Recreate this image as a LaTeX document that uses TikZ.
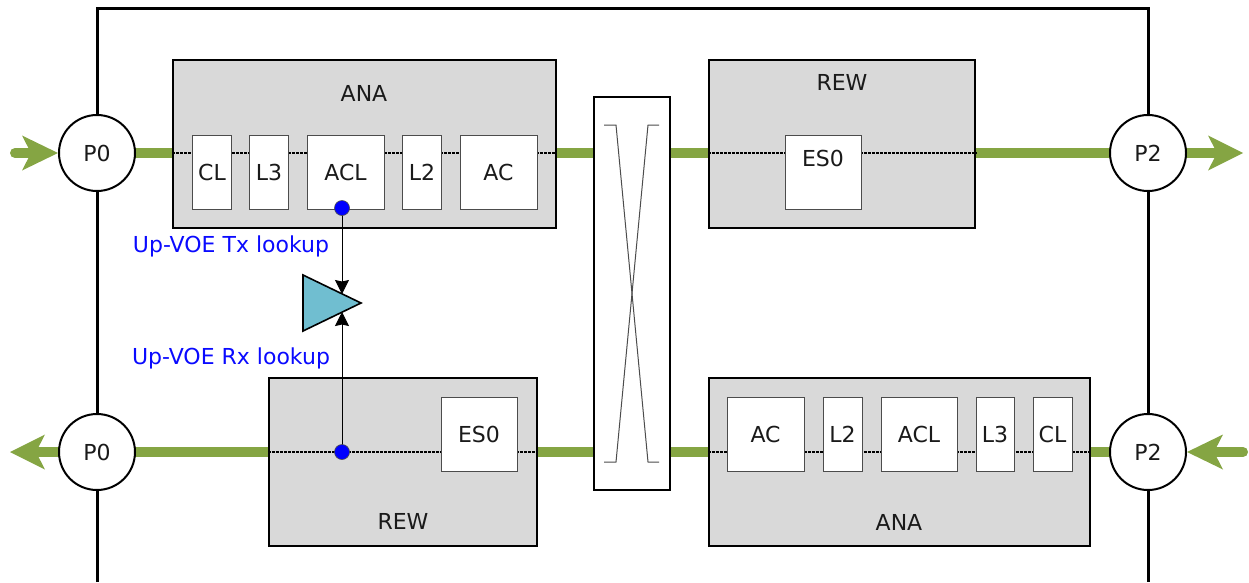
\documentclass[tikz,border=0pt]{standalone}
\usepackage{fontspec}
\setmainfont{DejaVu Sans}
\usetikzlibrary{arrows.meta,calc}
\pgfdeclarelayer{background}
\pgfsetlayers{background,main}
\definecolor{vgreen}{RGB}{133,165,67}
\definecolor{boxgray}{RGB}{217,217,217}
\definecolor{ampblue}{RGB}{112,190,208}
\definecolor{txt}{RGB}{26,26,26}
\definecolor{lblblue}{RGB}{10,10,255}
\begin{document}
\begin{tikzpicture}[x=1pt,y=-1pt,
  font=\fontsize{22}{26}\selectfont, text=txt,
  graybox/.style={draw=black, line width=2.5pt, fill=boxgray, inner sep=0pt, minimum height=168pt},
  inbox/.style={draw=black!70, line width=1pt, fill=white, inner sep=0pt, minimum height=74pt},
  port/.style={circle, draw=black, line width=2pt, fill=white, minimum size=76pt, inner sep=0pt},
  gline/.style={vgreen, line width=10pt},
  dotline/.style={black, line width=1.4pt, dash pattern=on 3pt off 1pt},
  bluedot/.style={circle, fill=blue, draw=black!70, line width=0.6pt, minimum size=15pt, inner sep=0pt},
  lbl/.style={text=lblblue, font=\fontsize{22}{26}\selectfont},
  sig/.style={black, line width=1pt, -{Stealth[length=14pt,width=14pt,inset=1.5pt]}},
  frameline/.style={black, line width=3pt},
  crossline/.style={black!70, line width=1pt}
]
\useasboundingbox (0,0) rectangle (1249,582);

% ports
\node[port] (p0t) at (97,153) {P0};
\node[port] (p0b) at (97,452) {P0};
\node[port] (p2t) at (1148,153) {P2};
\node[port] (p2b) at (1148,452) {P2};

% main blocks
\node[graybox, minimum width=383pt] (anaT) at (364.5,144) {};
\node (anaTt) at (364,93) {ANA};
\node[graybox, minimum width=266pt] (rewT) at (842,144) {};
\node (rewTt) at (842,82) {REW};
\node[graybox, minimum width=268pt] (rewB) at (403,462) {};
\node (rewBt) at (403,521) {REW};
\node[graybox, minimum width=381pt] (anaB) at (899.5,462) {};
\node (anaBt) at (899,522) {ANA};

% crossbar
\node[draw=black, line width=2pt, fill=white, minimum width=76pt, minimum height=393pt, inner sep=0pt] (xbar) at (632,293.5) {};
\draw[crossline] (604,125) -- (616,125) -- (648,462) -- (659,462);
\draw[crossline] (659,125) -- (648,125) -- (616,462) -- (604,462);

% dotted internal paths
\draw[dotline] (anaT.west |- p0t) -- (anaT.east |- p0t);
\draw[dotline] (rewT.west |- p2t) -- (rewT.east |- p2t);
\draw[dotline] (rewB.west |- p0b) -- (rewB.east |- p0b);
\draw[dotline] (anaB.west |- p2b) -- (anaB.east |- p2b);

% inner boxes, top ANA
\node[inbox, minimum width=39pt] (clT) at (212,172) {CL};
\node[inbox, minimum width=39pt] (l3T) at (269,172) {L3};
\node[inbox, minimum width=77pt] (aclT) at (345.5,172) {ACL};
\node[inbox, minimum width=39pt] (l2T) at (422,172) {L2};
\node[inbox, minimum width=77pt] (acT) at (498.5,172) {AC};
% top REW
\node[inbox, minimum width=76pt] (esT) at (823,172) {};
\node (esTt) at (823,158) {ES0};
% bottom REW
\node[inbox, minimum width=76pt] (esB) at (479,434) {ES0};
% bottom ANA
\node[inbox, minimum width=77pt] (acB) at (765.5,434) {AC};
\node[inbox, minimum width=39pt] (l2B) at (842.5,434) {L2};
\node[inbox, minimum width=76pt] (aclB) at (919,434) {ACL};
\node[inbox, minimum width=38pt] (l3B) at (995,434) {L3};
\node[inbox, minimum width=39pt] (clB) at (1052.5,434) {CL};

% lookup arrows and amplifier
\coordinate (dT) at (342,208);
\coordinate (dB) at (342,452);
\coordinate (ampTop) at (342,294);
\coordinate (ampBot) at (342,312);
\draw[sig] (dT) -- (ampTop);
\draw[sig] (dB) -- (ampBot);
\draw[fill=ampblue, draw=black, line width=1.6pt, line join=miter] (303,275) -- (361,303) -- (303,331) -- cycle;
\node[bluedot] (dotT) at (dT) {};
\node[bluedot] (dotB) at (dB) {};
\node[lbl] (txl) at (231,246) {Up-VOE Tx lookup};
\node[lbl] (rxl) at (231,358) {Up-VOE Rx lookup};

% free ends of the external arrows
\coordinate (inTL) at (15,153);
\coordinate (outTR) at (1243,153);
\coordinate (outBL) at (10,452);
\coordinate (inBR) at (1243,452);

\begin{pgfonlayer}{background}
  \draw[frameline] (97,582) -- (97,8) -- (1148,8) -- (1148,582);
  % green links
  \draw[gline] (p0t.center) -- (anaT.west |- p0t);
  \draw[gline] (anaT.east |- p0t) -- (xbar.west |- p0t);
  \draw[gline] (xbar.east |- p0t) -- (rewT.west |- p0t);
  \draw[gline] (rewT.east |- p0t) -- (p2t.center);
  \draw[gline] (p0b.center) -- (rewB.west |- p0b);
  \draw[gline] (rewB.east |- p0b) -- (xbar.west |- p0b);
  \draw[gline] (xbar.east |- p0b) -- (anaB.west |- p0b);
  \draw[gline] (anaB.east |- p0b) -- (p2b.center);
  % external arrows
  \draw[gline, line cap=round] (inTL) -- ([xshift=-26pt]p0t.west);
  \fill[vgreen] (p0t.west) -- ++(-36,-17.5) -- ++(9,17.5) -- ++(-9,17.5) -- cycle;
  \draw[gline] (p2t.center) -- ([xshift=-26pt]outTR);
  \fill[vgreen] (outTR) -- ++(-35,-17.5) -- ++(9,17.5) -- ++(-9,17.5) -- cycle;
  \draw[gline] (p0b.center) -- ([xshift=26pt]outBL);
  \fill[vgreen] (outBL) -- ++(35,-17.5) -- ++(-9,17.5) -- ++(9,17.5) -- cycle;
  \draw[gline, line cap=round] (inBR) -- ([xshift=26pt]p2b.east);
  \fill[vgreen] (p2b.east) -- ++(36,-17.5) -- ++(-9,17.5) -- ++(9,17.5) -- cycle;
\end{pgfonlayer}
\end{tikzpicture}
\end{document}
